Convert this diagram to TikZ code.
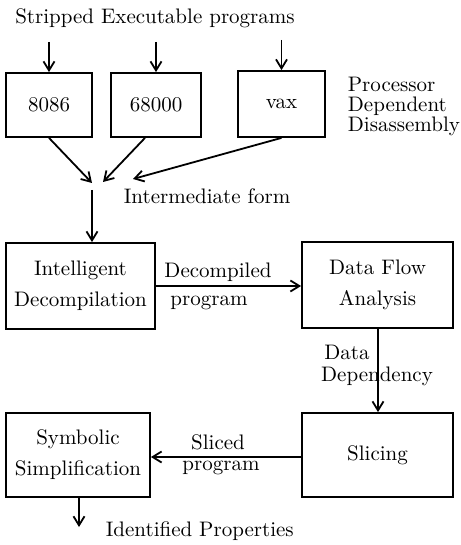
\documentclass[tikz,border=0pt]{standalone}
\usepackage{tikz}
\usetikzlibrary{arrows.meta}

\begin{document}
\begin{tikzpicture}[x=0.5pt,y=-0.5pt,
    font=\fontsize{10.5}{15.5}\selectfont,
    >={Straight Barb[length=4.5pt,width=5.5pt]},
    every path/.style={line width=0.9pt},
    box/.style={draw, line width=0.9pt, align=center, inner sep=0pt, minimum height=42pt},
    lbl/.style={inner sep=0pt}]
    \useasboundingbox (0,0) rectangle (460,545);
    % disassembly
    \node[lbl] (title) at (155,18) {Stripped Executable programs};
    \node[box, minimum width=43pt, minimum height=32pt] (i8086) at (49,105) {8086};
    \node[box, minimum width=45pt, minimum height=32pt] (m68000) at (156,105) {68000};
    \node[box, minimum width=43.5pt, minimum height=33pt] (vax) at (281.5,104) {vax};
    \node[lbl, anchor=west, align=left, font=\fontsize{10.5}{10}\selectfont] (proc) at (347,106) {Processor\\Dependent\\Disassembly};
    \draw[->] (i8086 |- 0,42) -- (i8086);
    \draw[->] (m68000 |- 0,42) -- (m68000);
    \draw[->] (vax |- 0,40) -- (vax);
    \coordinate (in1) at (92,183);
    \coordinate (in2) at (103,182);
    \coordinate (in3) at (133,179);
    \draw[->] (i8086.south) -- (in1);
    \draw[->] ([xshift=-5.5pt]m68000.south) -- (in2);
    \draw[->] (vax.south) -- (in3);
    \coordinate (form) at (92,190);
    \node[lbl, anchor=west] (iform) at (123,196) {Intermediate form};
    % analysis
    \node[box, minimum width=74.5pt, minimum height=43pt] (decomp) at (80.5,286) {Intelligent\\Decompilation};
    \node[box, minimum width=75.5pt, minimum height=43pt] (dfa) at (377.5,285) {Data Flow\\Analysis};
    \node[box, minimum width=75.5pt] (slice) at (377.5,455) {Slicing};
    \node[box, minimum width=72pt] (symb) at (78,455) {Symbolic\\Simplification};
    \draw[->] (form) -- (form |- decomp.north);
    \draw[->] (decomp.east |- 0,286) -- (dfa.west |- 0,286);
    \node[lbl] (dlbl) at (218,272) {Decompiled};
    \node[lbl] (plbl) at (209,303) {program};
    \draw[->] (dfa.south -| 378,0) -- (slice.north -| 378,0);
    \node[lbl] (data) at (347,352) {Data};
    \node[lbl] (dep) at (377,376) {Dependency};
    \draw[->] (slice.west |- 0,457) -- (symb.east |- 0,457);
    \node[lbl] (slbl) at (218,442) {Sliced};
    \node[lbl] (splbl) at (221,468) {program};
    \coordinate (out) at (79,527);
    \draw[->] (symb.south -| out) -- (out);
    \node[lbl, anchor=west] (props) at (105,531) {Identified Properties};
\end{tikzpicture}
\end{document}
